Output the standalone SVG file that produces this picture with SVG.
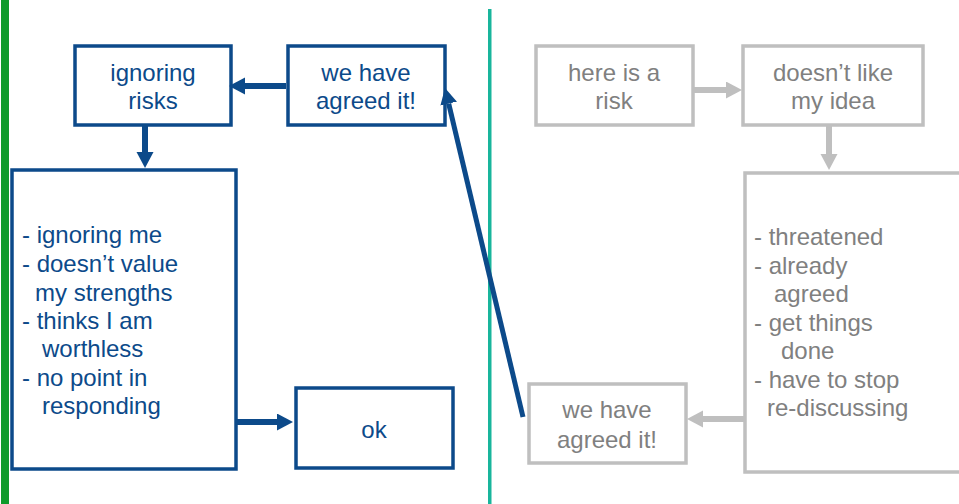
<svg xmlns="http://www.w3.org/2000/svg" width="959" height="504" viewBox="0 0 959 504">
<style>
.bb{fill:#fff;stroke:#0c4a8a;stroke-width:3.5}
.gb{fill:#fff;stroke:#bfbfbf;stroke-width:3.5}
.bt{font-family:"Liberation Sans",Arial,sans-serif;font-size:24px;fill:#0c4a8a}
.gt{font-family:"Liberation Sans",Arial,sans-serif;font-size:24px;fill:#808080}
.c{text-anchor:middle}
.bl{stroke:#0c4a8a;stroke-width:6;fill:none}
.gl{stroke:#bfbfbf;stroke-width:6;fill:none}
</style>
<defs>
<marker id="ab" markerUnits="userSpaceOnUse" markerWidth="17" markerHeight="18" refX="0" refY="8.5" orient="auto"><path d="M0,0 L16,8.5 L0,17 z" fill="#0c4a8a"/></marker>
<marker id="ag" markerUnits="userSpaceOnUse" markerWidth="17" markerHeight="18" refX="0" refY="8.5" orient="auto"><path d="M0,0 L16,8.5 L0,17 z" fill="#bfbfbf"/></marker>
</defs>
<rect x="0" y="0" width="959" height="504" fill="#fff"/>
<rect x="1" y="0" width="8" height="504" fill="#0e9a2b"/>
<rect x="488" y="9" width="3.5" height="495" fill="#19b59c"/>
<g id="n-ignoring-risks"><rect class="bb" x="75" y="46" width="156" height="79"/><text class="bt c" x="153" y="81">ignoring</text><text class="bt c" x="153" y="109">risks</text></g>
<g id="n-agreed-blue"><rect class="bb" x="288" y="46" width="157" height="79"/><text class="bt c" x="366" y="81">we have</text><text class="bt c" x="366" y="109">agreed it!</text></g>
<g id="n-ignoring-me"><rect class="bb" x="12" y="170" width="224" height="299"/>
<text class="bt" x="22" y="243">- ignoring me</text>
<text class="bt" x="22" y="272">- doesn’t value</text>
<text class="bt" x="35" y="301">my strengths</text>
<text class="bt" x="22" y="329">- thinks I am</text>
<text class="bt" x="42" y="357">worthless</text>
<text class="bt" x="22" y="386">- no point in</text>
<text class="bt" x="42" y="414">responding</text></g>
<g id="n-ok"><rect class="bb" x="296" y="388" width="157" height="80"/><text class="bt c" x="374" y="438">ok</text></g>
<g id="n-risk"><rect class="gb" x="536" y="46" width="157" height="79"/><text class="gt c" x="614" y="81">here is a</text><text class="gt c" x="614" y="109">risk</text></g>
<g id="n-dislike"><rect class="gb" x="743" y="46" width="180" height="79"/><text class="gt c" x="833" y="81">doesn’t like</text><text class="gt c" x="833" y="109">my idea</text></g>
<g id="n-threatened"><rect class="gb" x="745" y="173" width="230" height="299"/>
<text class="gt" x="754" y="245">- threatened</text>
<text class="gt" x="754" y="274">- already</text>
<text class="gt" x="774" y="302">agreed</text>
<text class="gt" x="754" y="331">- get things</text>
<text class="gt" x="781" y="359">done</text>
<text class="gt" x="754" y="388">- have to stop</text>
<text class="gt" x="767" y="416">re-discussing</text></g>
<g id="n-agreed-gray"><rect class="gb" x="529" y="384" width="157" height="79"/><text class="gt c" x="607" y="418">we have</text><text class="gt c" x="607" y="448">agreed it!</text></g>
<g id="connectors">
<line class="bl" x1="286" y1="86" x2="245" y2="86" marker-end="url(#ab)"/>
<line class="bl" x1="145" y1="126" x2="145" y2="152" marker-end="url(#ab)"/>
<line class="bl" x1="237" y1="422" x2="277" y2="422" marker-end="url(#ab)"/>
<line class="bl" x1="523" y1="417" x2="448.7" y2="103.6" style="stroke-width:5" marker-end="url(#ab)"/>
<line class="gl" x1="694" y1="90" x2="726" y2="90" marker-end="url(#ag)"/>
<line class="gl" x1="829" y1="126" x2="829" y2="154" marker-end="url(#ag)"/>
<line class="gl" x1="744" y1="419" x2="703" y2="419" marker-end="url(#ag)"/>
</g>
</svg>
